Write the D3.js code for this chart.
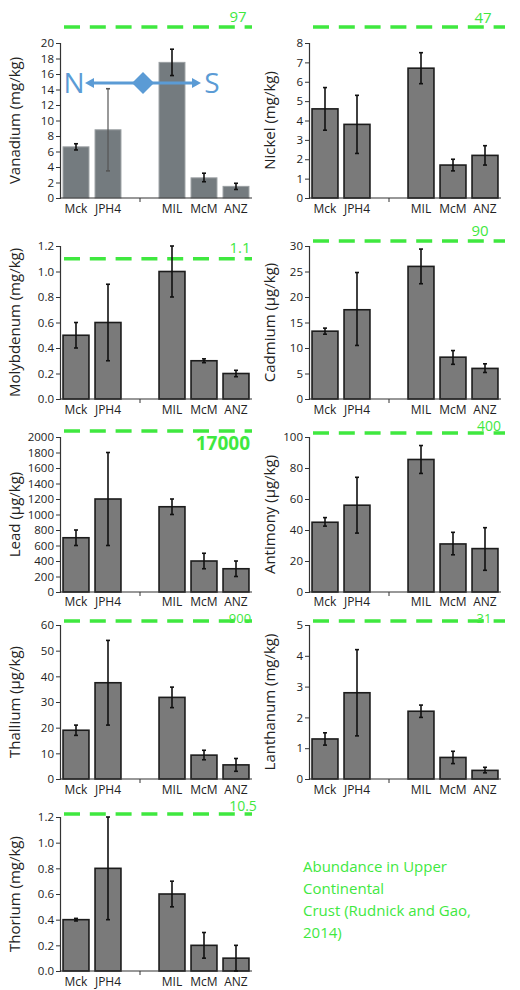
<!DOCTYPE html>
<html><head><meta charset="utf-8">
<script src="https://cdn.jsdelivr.net/npm/d3@7"></script>
<style>body{margin:0;background:#fff}svg{display:block}text{font-family:"Open Sans",sans-serif}</style>
</head><body>
<script>
// ---- data ----
const categories = ["Mck", "JPH4", "", "MIL", "McM", "ANZ"];
const elements = ["Vanadium (mg/kg)", "Nickel (mg/kg)", "Molybdenum (mg/kg)", "Cadmium (µg/kg)", "Lead (µg/kg)", "Antimony (µg/kg)", "Thallium (µg/kg)", "Lanthanum (mg/kg)", "Thorium (mg/kg)"];
const vanadium   = [6.6, 8.8, null, 17.5, 2.6, 1.5];
const vanadiumErr = [[6.2, 7.0], [3.5, 14.1], null, [15.8, 19.2], [2.1, 3.2], [1.1, 1.9]];
const nickel     = [4.6, 3.8, null, 6.7, 1.7, 2.2];
const nickelErr  = [[3.5, 5.7], [2.3, 5.3], null, [5.9, 7.5], [1.4, 2.0], [1.7, 2.7]];
const molybdenum = [0.5, 0.6, null, 1.0, 0.3, 0.2];
const molybdenumErr = [[0.4, 0.6], [0.3, 0.9], null, [0.8, 1.2], [0.285, 0.315], [0.175, 0.225]];
const cadmium    = [13.3, 17.5, null, 26.0, 8.2, 6.0];
const cadmiumErr = [[12.7, 13.9], [10.5, 24.8], null, [22.6, 29.4], [6.8, 9.5], [5.2, 6.9]];
const lead       = [700, 1200, null, 1100, 400, 300];
const leadErr    = [[600, 800], [600, 1800], null, [1000, 1200], [300, 500], [200, 400]];
const antimony   = [45, 56, null, 85.5, 31, 28];
const antimonyErr = [[42.5, 48], [38, 74], null, [76.5, 94.5], [24, 38.5], [14, 41.5]];
const thallium   = [19, 37.5, null, 31.8, 9.3, 5.5];
const thalliumErr = [[17, 21], [21, 54], null, [27.8, 35.8], [7.5, 11.2], [3, 8]];
const lanthanum  = [1.3, 2.8, null, 2.2, 0.7, 0.28];
const lanthanumErr = [[1.1, 1.5], [1.4, 4.2], null, [2.0, 2.4], [0.5, 0.9], [0.2, 0.38]];
const thorium    = [0.4, 0.8, null, 0.6, 0.2, 0.1];
const thoriumErr = [[0.39, 0.41], [0.4, 1.2], null, [0.5, 0.7], [0.1, 0.3], [0.0, 0.2]];
const yMax       = [20, 8, 1.2, 30, 2000, 100, 60, 5, 1.2];
const yStep      = [2, 1, 0.2, 5, 200, 20, 10, 1, 0.2];
const crustLabels = ["97", "47", "1.1", "90", "17000", "400", "900", "31", "10.5"];
const crustInRange = [false, false, true, false, false, false, false, false, false];
const legendLines = ["Abundance in Upper", "Continental", "Crust (Rudnick and Gao,", "2014)"];

const seriesValues = [vanadium, nickel, molybdenum, cadmium, lead, antimony, thallium, lanthanum, thorium];
const seriesErrs = [vanadiumErr, nickelErr, molybdenumErr, cadmiumErr, leadErr, antimonyErr, thalliumErr, lanthanumErr, thoriumErr];

// ---- layout ----
const W = 520, H = 990;
const GREEN = "#3fe83f";
const svg = d3.select("body").append("svg").attr("width", W).attr("height", H);

const colX = [60, 309];
const plotW = 192;
const rows = [[43, 198], [246, 399], [437, 592], [625, 779], [817, 971]];
const xLabelOffset = [15, 15, 14, 15, 15];
const greenY = [27, 27, null, 241, 431, 433, 621, 621, 814];
const labelPos = [[238, 22, 15], [483, 23, 15], [240, 253, 15], [480, 236, 15], [250, 450, 19], [489, 431, 14], [240, 623, 13], [484, 623, 13], [243, 811, 14]];

elements.forEach((title, i) => {
  const col = i % 2, row = Math.floor(i / 2);
  const x0 = colX[col], [yT, yB] = rows[row];
  const g = svg.append("g");
  const x = d3.scaleBand().domain(categories.map((c, k) => k)).range([x0, x0 + plotW]).paddingInner(0.19).paddingOuter(0.095);
  const y = d3.scaleLinear().domain([0, yMax[i]]).range([yB, yT]);
  const isDec = yStep[i] < 1;
  const ticks = d3.range(0, yMax[i] + yStep[i] / 2, yStep[i]);

  // green reference line
  const gy = crustInRange[i] ? y(1.1) : greenY[i];
  g.append("line").attr("x1", x0 + 4).attr("x2", x0 + plotW + (col ? 4 : 0)).attr("y1", gy).attr("y2", gy)
    .attr("stroke", GREEN).attr("stroke-width", 3.5).attr("stroke-dasharray", "16,9.8");
  const lp = labelPos[i];
  g.append("text").attr("x", lp[0]).attr("y", lp[1]).attr("text-anchor", i === 4 ? "end" : "middle")
    .attr("font-size", lp[2]).attr("font-weight", i === 4 ? 700 : 400).attr("fill", GREEN).text(crustLabels[i]);

  // y axis
  const ax = g.append("g").attr("transform", `translate(${x0},0)`)
    .call(d3.axisLeft(y).tickValues(ticks).tickSize(4).tickFormat(isDec ? d3.format(".1f") : d3.format("d")));
  ax.select(".domain").attr("stroke", "#333").attr("stroke-width", 1.2);
  ax.selectAll(".tick line").attr("stroke", "#333");
  ax.selectAll(".tick text").attr("font-size", 11.5).attr("fill", "#222").attr("x", -6);

  // bars
  const vals = seriesValues[i], errs = seriesErrs[i];
  const isV = i === 0;
  g.selectAll("rect.bar").data(vals.map((v, k) => ({ v, k })).filter(d => d.v !== null)).enter().append("rect")
    .attr("x", d => x(d.k)).attr("width", x.bandwidth())
    .attr("y", d => y(d.v)).attr("height", d => yB - y(d.v))
    .attr("fill", isV ? "#747b7f" : "#7a7a7a")
    .attr("stroke", isV ? "#9a9fa2" : "#1c1c1c").attr("stroke-width", isV ? 1 : 1.6);

  // x axis
  g.append("line").attr("x1", x0).attr("x2", x0 + plotW).attr("y1", yB).attr("y2", yB).attr("stroke", "#333").attr("stroke-width", 1.2);
  g.append("line").attr("x1", x(2) + x.bandwidth() / 2).attr("x2", x(2) + x.bandwidth() / 2).attr("y1", yB).attr("y2", yB + 4).attr("stroke", "#333");
  g.selectAll("text.xl").data(categories.map((c, k) => ({ c, k })).filter(d => d.c)).enter().append("text")
    .attr("x", d => x(d.k) + x.bandwidth() / 2).attr("y", yB + xLabelOffset[row]).attr("text-anchor", "middle")
    .attr("font-size", 12).attr("fill", "#222").text(d => d.c);

  // y title
  const tx = col ? 270 : 15;
  g.append("text").attr("transform", `translate(${tx},${(yT + yB) / 2}) rotate(-90)`)
    .attr("text-anchor", "middle").attr("dy", "0.35em").attr("font-size", 15).attr("fill", "#222").text(title);

  // N-S arrow annotation (Vanadium)
  if (isV) {
    const blue = "#5b9bd5", ay = 83;
    const a = g.append("g");
    a.append("text").attr("x", 74).attr("y", ay).attr("dy", "0.36em").attr("text-anchor", "middle").attr("font-size", 28).attr("fill", blue).text("N");
    a.append("text").attr("x", 212).attr("y", ay).attr("dy", "0.36em").attr("text-anchor", "middle").attr("font-size", 28).attr("fill", blue).text("S");
    a.append("line").attr("x1", 92).attr("x2", 134).attr("y1", ay).attr("y2", ay).attr("stroke", blue).attr("stroke-width", 3);
    a.append("line").attr("x1", 152).attr("x2", 194).attr("y1", ay).attr("y2", ay).attr("stroke", blue).attr("stroke-width", 3);
    a.append("path").attr("d", `M85,${ay} L94,${ay - 5} L94,${ay + 5} Z`).attr("fill", blue);
    a.append("path").attr("d", `M201,${ay} L192,${ay - 5} L192,${ay + 5} Z`).attr("fill", blue);
    a.append("path").attr("d", `M143,${ay - 11} L154,${ay} L143,${ay + 11} L132,${ay} Z`).attr("fill", blue);
  }

  // error bars
  const eb = errs.map((e, k) => ({ e, k })).filter(d => d.e);
  eb.forEach(d => {
    const cx = x(d.k) + x.bandwidth() / 2;
    const thin = isV && d.k === 1;
    const col2 = thin ? "#555" : "#111";
    g.append("line").attr("x1", cx).attr("x2", cx).attr("y1", y(d.e[0])).attr("y2", y(d.e[1])).attr("stroke", col2).attr("stroke-width", thin ? 1.2 : 1.6);
    [d.e[0], d.e[1]].forEach(v => g.append("line").attr("x1", cx - 2).attr("x2", cx + 2).attr("y1", y(v)).attr("y2", y(v)).attr("stroke", col2).attr("stroke-width", 1.6));
  });
});

// legend text
const lg = svg.append("g");
lg.selectAll("text").data(legendLines).enter().append("text")
  .attr("x", 303).attr("y", (d, k) => 872 + k * 22).attr("font-size", 15).attr("fill", GREEN).text(d => d);
</script>
</body></html>
